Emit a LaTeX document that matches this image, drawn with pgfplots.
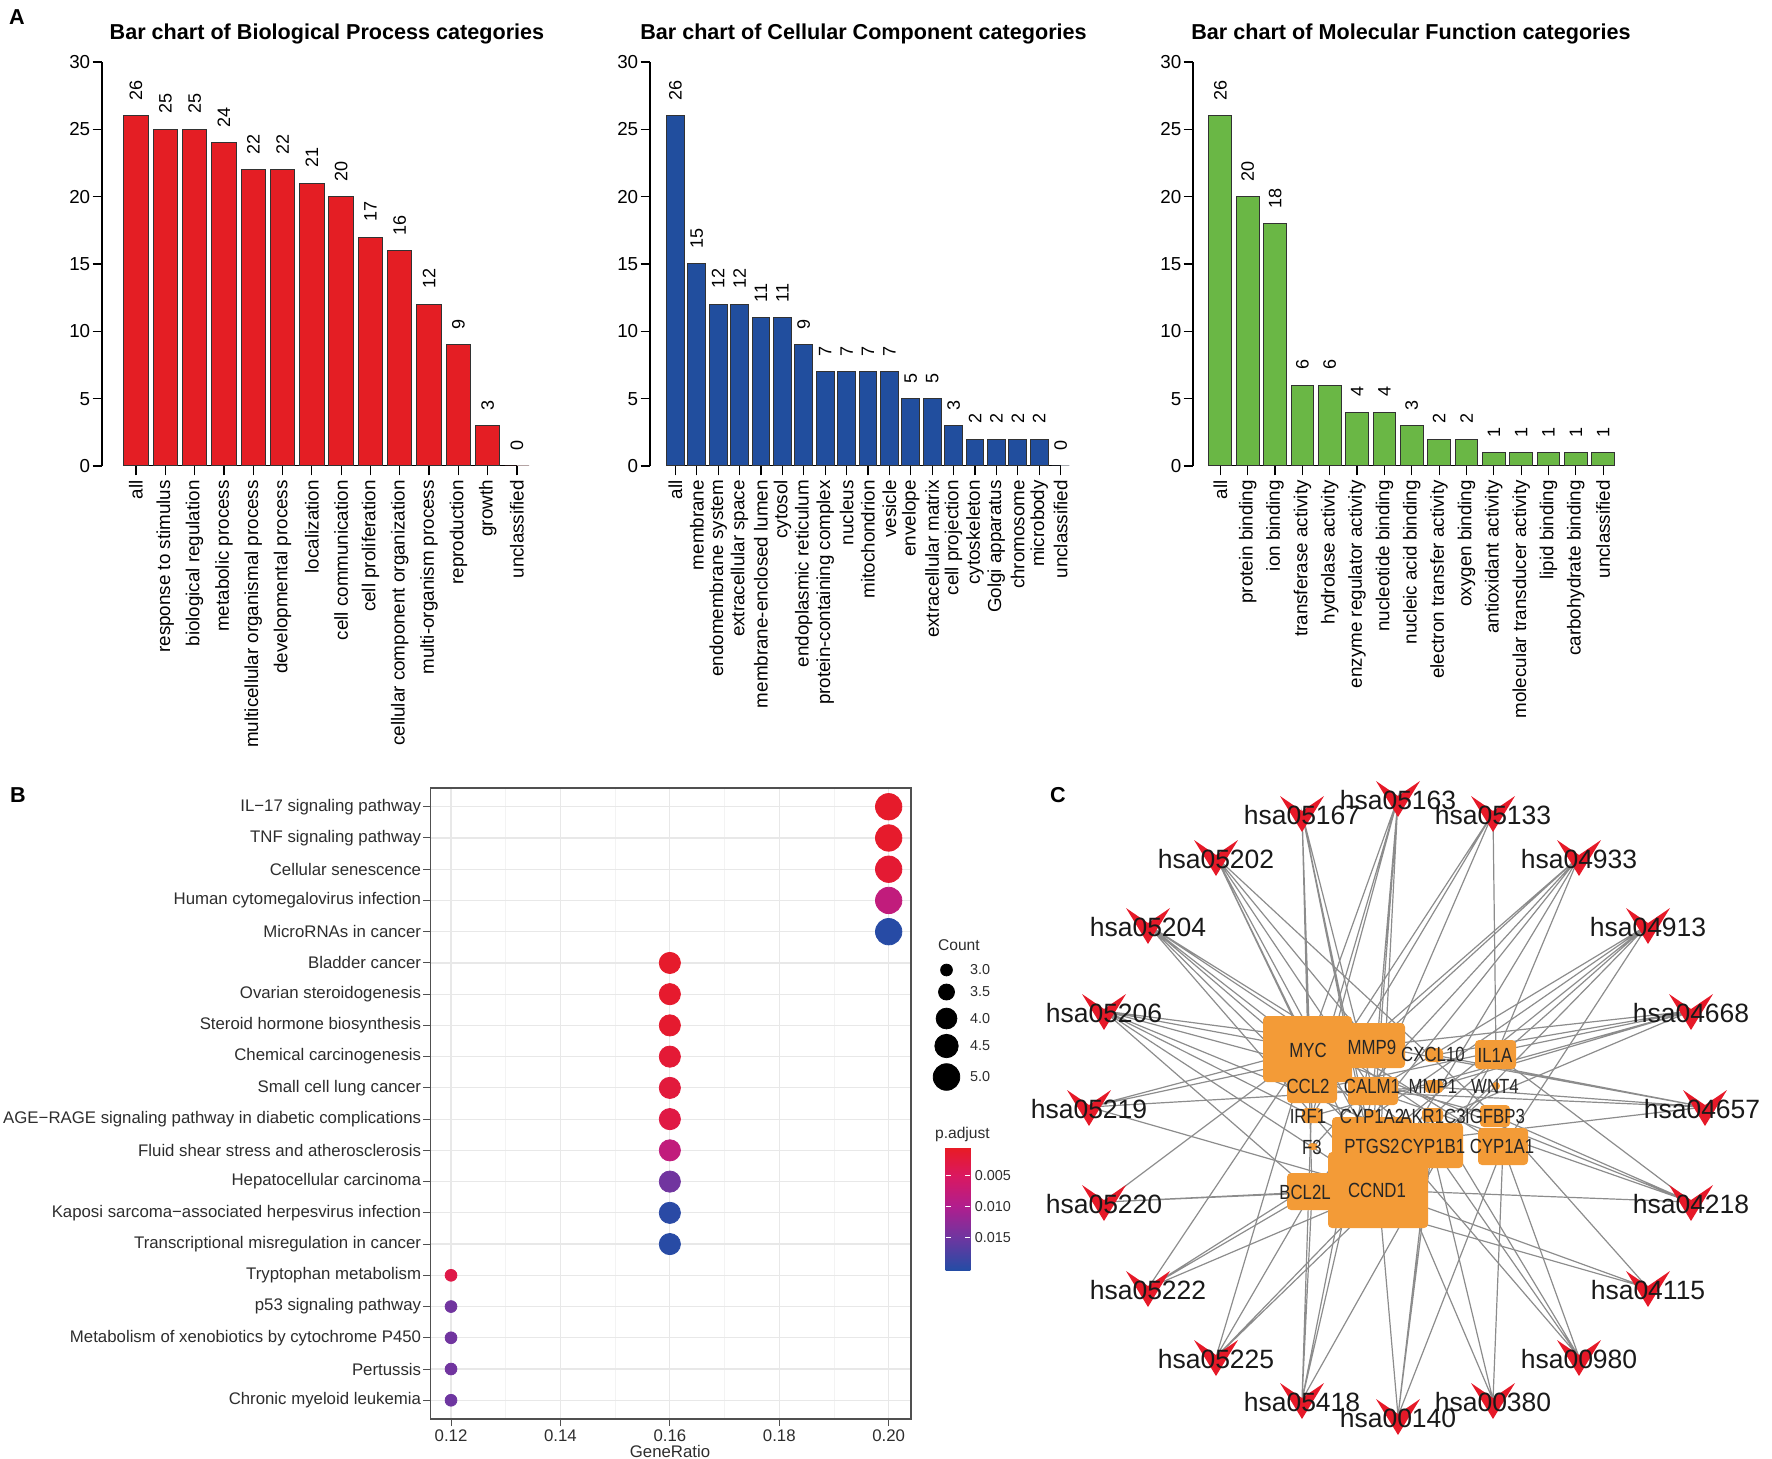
\documentclass[border=0pt]{standalone}
\usepackage{pgfplots}
\pgfplotsset{compat=1.18}
\usepackage{fontspec}
\setmainfont{Liberation Sans}
\newfontfamily\narrowfont{Liberation Sans}[FakeStretch=0.82]

\newcommand{\fs}[1]{\fontsize{#1}{#1}\selectfont}

\definecolor{bpred}{RGB}{228,30,36}
\definecolor{ccblue}{RGB}{33,78,158}
\definecolor{mfgreen}{RGB}{106,183,69}
\definecolor{barline}{RGB}{50,50,50}
\definecolor{gorange}{RGB}{243,155,55}
\definecolor{vred}{RGB}{230,25,40}
\definecolor{edgegray}{RGB}{140,140,140}
\definecolor{gridmaj}{RGB}{232,232,232}
\definecolor{gridmin}{RGB}{243,243,243}
\definecolor{border}{RGB}{80,80,80}
\definecolor{labgray}{RGB}{45,45,45}

\pgfplotsset{
  /pgf/number format/assume math mode=true,
  colormap={padj}{rgb255(0.4pt)=(232,27,35) rgb255(5pt)=(218,24,96) rgb255(10pt)=(176,30,142) rgb255(15pt)=(110,54,160) rgb255(20.2pt)=(36,76,165)},
  % same map mirrored, for the colour bar (small p.adjust at the top)
  colormap={padjrev}{rgb255(0.4pt)=(36,76,165) rgb255(5.6pt)=(110,54,160) rgb255(10.6pt)=(176,30,142) rgb255(15.6pt)=(218,24,96) rgb255(20.2pt)=(232,27,35)},
  colormap name=padj,
  gobar/.style={
    scale only axis, height=202pt,
    ymin=0, ymax=30,
    axis y line=left, axis x line=bottom,
    axis line style={-, line width=0.6pt},
    x axis line style={draw=none},
    ytick={0,5,10,15,20,25,30},
    yticklabels={0,5,10,15,20,25,30},
    tick align=outside,
    major tick length=4.7pt,
    tick style={black, line width=0.6pt},
    yticklabel style={font=\fs{9.4}, inner xsep=1pt},
    xticklabel style={font=\fs{9.4}, rotate=90, anchor=east, inner xsep=2.2pt},
  },
  gobars/.style={ybar, bar width=0.833, fill=#1, draw=barline, line width=0.5pt,
    nodes near coords,
    every node near coord/.append style={rotate=90, anchor=west, font=\fs{9},
      inner xsep=7.5pt, inner ysep=0pt, text=black}},
  edge/.style={edgegray, line width=0.6pt},
  gbox/.style={fill=gorange, draw=none, rounded corners=2pt},
  vee/.style={fill=vred, draw=none},
}

\begin{document}
\begin{tikzpicture}
\useasboundingbox (0,0) rectangle (886pt,-729.5pt);

%% ---------- A: Biological Process ----------
\begin{axis}[gobar, at={(51pt,-233pt)}, anchor=south west, width=216.3pt,
  xmin=-0.16, xmax=14.6, xtick={1,...,14},
  xticklabels={all,response to stimulus,biological regulation,metabolic process,
    multicellular organismal process,developmental process,localization,
    cell communication,cell proliferation,cellular component organization,
    multi-organism process,reproduction,growth,unclassified}]
\addplot[black, line width=0.6pt] coordinates {(1,0) (14,0)};
\addplot[gobars=bpred] coordinates {(1,26) (2,25) (3,25) (4,24) (5,22) (6,22) (7,21)
  (8,20) (9,17) (10,16) (11,12) (12,9) (13,3) (14,0)};
\end{axis}

%% ---------- A: Cellular Component ----------
\begin{axis}[gobar, at={(325pt,-233pt)}, anchor=south west, width=211.7pt,
  xmin=-0.187, xmax=19.6, xtick={1,...,19},
  xticklabels={all,membrane,endomembrane system,extracellular space,
    membrane-enclosed lumen,cytosol,endoplasmic reticulum,protein-containing complex,
    nucleus,mitochondrion,vesicle,envelope,extracellular matrix,cell projection,
    cytoskeleton,Golgi apparatus,chromosome,microbody,unclassified}]
\addplot[black, line width=0.6pt] coordinates {(1,0) (19,0)};
\addplot[gobars=ccblue] coordinates {(1,26) (2,15) (3,12) (4,12) (5,11) (6,11) (7,9)
  (8,7) (9,7) (10,7) (11,7) (12,5) (13,5) (14,3) (15,2) (16,2) (17,2) (18,2) (19,0)};
\end{axis}

%% ---------- A: Molecular Function ----------
\begin{axis}[gobar, at={(596.5pt,-233pt)}, anchor=south west, width=213.3pt,
  xmin=0, xmax=15.6, xtick={1,...,15},
  xticklabels={all,protein binding,ion binding,transferase activity,hydrolase activity,
    enzyme regulator activity,nucleotide binding,nucleic acid binding,
    electron transfer activity,oxygen binding,antioxidant activity,
    molecular transducer activity,lipid binding,carbohydrate binding,unclassified}]
\addplot[black, line width=0.6pt] coordinates {(1,0) (15,0)};
\addplot[gobars=mfgreen] coordinates {(1,26) (2,20) (3,18) (4,6) (5,6) (6,4) (7,4)
  (8,3) (9,2) (10,2) (11,1) (12,1) (13,1) (14,1) (15,1)};
\end{axis}

%% ---------- B: KEGG dot plot ----------
\begin{axis}[
  at={(215.25pt,-709.5pt)}, anchor=south west,
  scale only axis, width=240.25pt, height=315.5pt,
  xmin=0.11625, xmax=0.20408, ymin=0.4, ymax=20.6,
  xtick={0.12,0.14,0.16,0.18,0.20},
  xticklabels={0.12,0.14,0.16,0.18,0.20},
  minor xtick={0.13,0.15,0.17,0.19},
  ytick={1,...,20},
  yticklabels={Chronic myeloid leukemia,Pertussis,
    Metabolism of xenobiotics by cytochrome P450,p53 signaling pathway,
    Tryptophan metabolism,Transcriptional misregulation in cancer,
    Kaposi sarcoma−associated herpesvirus infection,Hepatocellular carcinoma,
    Fluid shear stress and atherosclerosis,
    AGE−RAGE signaling pathway in diabetic complications,Small cell lung cancer,
    Chemical carcinogenesis,Steroid hormone biosynthesis,Ovarian steroidogenesis,
    Bladder cancer,MicroRNAs in cancer,Human cytomegalovirus infection,
    Cellular senescence,TNF signaling pathway,IL−17 signaling pathway},
  grid=both,
  major grid style={gridmaj, line width=0.6pt},
  minor grid style={gridmin, line width=0.45pt},
  axis line style={border, line width=0.8pt},
  tick pos=left, tick align=outside,
  major tick length=3.5pt, minor tick length=0pt,
  tick style={border, line width=0.5pt},
  xticklabel style={font=\fs{8.4}, text=labgray, inner ysep=1.5pt},
  yticklabel style={font=\fs{8.4}, text=labgray, inner xsep=1pt},
  colormap name=padj,
  point meta min=0.0004, point meta max=0.0202,
  colorbar,
  colorbar style={
    colormap name=padjrev,
    at={(parent axis.south east)}, anchor=south west,
    xshift=8.75pt, yshift=74.5pt,
    scale only axis, width=12.4pt, height=61.5pt,
    axis line style={draw=none},
    grid=none,
    scaled y ticks=false,
    ytick={0.0156,0.0106,0.0056},
    yticklabels={0.005,0.010,0.015},
    ytick pos=both,
    yticklabel pos=right,
    tick align=inside,
    major tick length=2.6pt,
    ytick style={white, line width=0.7pt},
    yticklabel style={font=\fs{7.2}, text=labgray, inner xsep=2pt},
  },
]
\addplot[scatter, only marks, mark=*, mark size=6.6pt, point meta=explicit,
  scatter/use mapped color={draw=mapped color, fill=mapped color}]
  table[meta=p, row sep=\\] {x y p \\
  0.20 20 0.0010 \\ 0.20 19 0.0011 \\ 0.20 18 0.0016 \\ 0.20 17 0.0080 \\ 0.20 16 0.0200 \\};
\addplot[scatter, only marks, mark=*, mark size=5.3pt, point meta=explicit,
  scatter/use mapped color={draw=mapped color, fill=mapped color}]
  table[meta=p, row sep=\\] {x y p \\
  0.16 15 0.0011 \\ 0.16 14 0.0012 \\ 0.16 13 0.0013 \\ 0.16 12 0.0018 \\
  0.16 11 0.0023 \\ 0.16 10 0.0029 \\ 0.16 9 0.0080 \\ 0.16 8 0.0148 \\
  0.16 7 0.0198 \\ 0.16 6 0.0199 \\};
\addplot[scatter, only marks, mark=*, mark size=2.95pt, point meta=explicit,
  scatter/use mapped color={draw=mapped color, fill=mapped color}]
  table[meta=p, row sep=\\] {x y p \\
  0.12 5 0.0032 \\ 0.12 4 0.0148 \\ 0.12 3 0.0148 \\ 0.12 2 0.0148 \\ 0.12 1 0.0150 \\};
\end{axis}

%% ---------- canvas in image pixels: titles, legend, C network ----------
\begin{axis}[at={(0pt,0pt)}, anchor=north west, scale only axis,
  width=886pt, height=729.5pt, xmin=0, xmax=1772, ymin=0, ymax=1459,
  y dir=reverse, hide axis, clip=false]

% edges (pathway -> genes)
\addplot[edge] coordinates {(1398,798) (1378,1190) (1398,798) (1312,1090) (1398,798) (1372,1146) (1398,798) (1373,1091) (1398,798) (1308,1049) (1398,798) (1312,1116)};
\addplot[edge] coordinates {(1302,813) (1308,1049) (1302,813) (1378,1190) (1302,813) (1372,1146) (1302,813) (1373,1091) (1302,813) (1312,1116) (1302,813) (1312,1192)};
\addplot[edge] coordinates {(1493,813) (1496,1055) (1493,813) (1373,1091) (1493,813) (1312,1116) (1493,813) (1312,1090)};
\addplot[edge] coordinates {(1216,857) (1308,1049) (1216,857) (1372,1046) (1216,857) (1495,1116) (1216,857) (1378,1190) (1216,857) (1373,1091) (1216,857) (1372,1146)};
\addplot[edge] coordinates {(1579,857) (1312,1090) (1579,857) (1378,1190) (1579,857) (1313,1147) (1579,857) (1496,1055) (1579,857) (1312,1192) (1579,857) (1372,1046)};
\addplot[edge] coordinates {(1148,925) (1503,1147) (1148,925) (1372,1116) (1148,925) (1432,1146) (1148,925) (1372,1146) (1148,925) (1433,1115) (1148,925) (1378,1190)};
\addplot[edge] coordinates {(1648,925) (1503,1147) (1648,925) (1432,1146) (1648,925) (1433,1115) (1648,925) (1372,1146) (1648,925) (1372,1116) (1648,925) (1373,1091)};
\addplot[edge] coordinates {(1104,1011) (1378,1190) (1104,1011) (1308,1049) (1104,1011) (1372,1046) (1104,1011) (1372,1146) (1104,1011) (1312,1192) (1104,1011) (1432,1146) (1104,1011) (1495,1116)};
\addplot[edge] coordinates {(1691,1011) (1312,1090) (1691,1011) (1372,1046) (1691,1011) (1372,1146) (1691,1011) (1434,1055) (1691,1011) (1434,1087) (1691,1011) (1312,1116)};
\addplot[edge] coordinates {(1089,1107) (1378,1190) (1089,1107) (1308,1049) (1089,1107) (1372,1046) (1089,1107) (1434,1087)};
\addplot[edge] coordinates {(1705,1107) (1312,1090) (1705,1107) (1372,1046) (1705,1107) (1372,1146) (1705,1107) (1434,1055) (1705,1107) (1434,1087)};
\addplot[edge] coordinates {(1104,1202) (1378,1190) (1104,1202) (1308,1049) (1104,1202) (1312,1192)};
\addplot[edge] coordinates {(1691,1202) (1378,1190) (1691,1202) (1308,1049) (1691,1202) (1373,1091) (1691,1202) (1496,1055) (1691,1202) (1495,1116)};
\addplot[edge] coordinates {(1148,1288) (1378,1190) (1148,1288) (1308,1049) (1148,1288) (1372,1146) (1148,1288) (1312,1192)};
\addplot[edge] coordinates {(1648,1288) (1378,1190) (1648,1288) (1495,1116) (1648,1288) (1312,1192)};
\addplot[edge] coordinates {(1216,1357) (1378,1190) (1216,1357) (1308,1049) (1216,1357) (1312,1192) (1216,1357) (1496,1086)};
\addplot[edge] coordinates {(1579,1357) (1503,1147) (1579,1357) (1372,1116) (1579,1357) (1432,1146) (1579,1357) (1433,1115)};
\addplot[edge] coordinates {(1302,1400) (1373,1091) (1302,1400) (1372,1046) (1302,1400) (1496,1055) (1302,1400) (1312,1090) (1302,1400) (1312,1192)};
\addplot[edge] coordinates {(1493,1400) (1503,1147) (1493,1400) (1372,1116) (1493,1400) (1432,1146)};
\addplot[edge] coordinates {(1398,1416) (1503,1147) (1398,1416) (1372,1116) (1398,1416) (1432,1146) (1398,1416) (1433,1115)};

% gene nodes
\addplot[gbox] coordinates {(1263,1016) (1352,1016) (1352,1082) (1263,1082)} -- cycle; % MYC
\addplot[gbox] coordinates {(1338,1023) (1405,1023) (1405,1068) (1338,1068)} -- cycle; % MMP9
\addplot[gbox] coordinates {(1425,1048) (1443,1048) (1443,1062) (1425,1062)} -- cycle; % CXCL10
\addplot[gbox] coordinates {(1475,1040) (1516,1040) (1516,1069) (1475,1069)} -- cycle; % IL1A
\addplot[gbox] coordinates {(1287,1077) (1337,1077) (1337,1103) (1287,1103)} -- cycle; % CCL2
\addplot[gbox] coordinates {(1348,1077) (1398,1077) (1398,1105) (1348,1105)} -- cycle; % CALM1
\addplot[gbox] coordinates {(1425,1080) (1443,1080) (1443,1093) (1425,1093)} -- cycle; % MMP1
\addplot[gbox] coordinates {(1492,1082) (1500,1082) (1500,1090) (1492,1090)} -- cycle; % WNT4
\addplot[gbox] coordinates {(1302,1108) (1322,1108) (1322,1123) (1302,1123)} -- cycle; % IRF1
\addplot[gbox] coordinates {(1365,1110) (1379,1110) (1379,1122) (1365,1122)} -- cycle; % CYP1A2
\addplot[gbox] coordinates {(1422,1108) (1443,1108) (1443,1122) (1422,1122)} -- cycle; % AKR1C3
\addplot[gbox] coordinates {(1480,1105) (1510,1105) (1510,1127) (1480,1127)} -- cycle; % IGFBP3
\addplot[gbox] coordinates {(1308,1143) (1318,1143) (1318,1150) (1308,1150)} -- cycle; % F3
\addplot[gbox] coordinates {(1332,1117) (1412,1117) (1412,1175) (1332,1175)} -- cycle; % PTGS2
\addplot[gbox] coordinates {(1400,1123) (1463,1123) (1463,1168) (1400,1168)} -- cycle; % CYP1B1
\addplot[gbox] coordinates {(1478,1128) (1528,1128) (1528,1165) (1478,1165)} -- cycle; % CYP1A1
\addplot[gbox] coordinates {(1287,1173) (1337,1173) (1337,1210) (1287,1210)} -- cycle; % BCL2L
\addplot[gbox] coordinates {(1328,1152) (1428,1152) (1428,1228) (1328,1228)} -- cycle; % CCND1

% pathway nodes (red chevrons)
\addplot[vee] coordinates {(1376,781) (1398,796) (1420,781) (1398,817)} -- cycle;
\addplot[vee] coordinates {(1471,796) (1493,811) (1515,796) (1493,832)} -- cycle;
\addplot[vee] coordinates {(1557,840) (1579,855) (1601,840) (1579,876)} -- cycle;
\addplot[vee] coordinates {(1626,908) (1648,923) (1670,908) (1648,944)} -- cycle;
\addplot[vee] coordinates {(1669,994) (1691,1009) (1713,994) (1691,1030)} -- cycle;
\addplot[vee] coordinates {(1683,1090) (1705,1105) (1727,1090) (1705,1126)} -- cycle;
\addplot[vee] coordinates {(1669,1185) (1691,1200) (1713,1185) (1691,1221)} -- cycle;
\addplot[vee] coordinates {(1626,1271) (1648,1286) (1670,1271) (1648,1307)} -- cycle;
\addplot[vee] coordinates {(1557,1340) (1579,1355) (1601,1340) (1579,1376)} -- cycle;
\addplot[vee] coordinates {(1471,1383) (1493,1398) (1515,1383) (1493,1419)} -- cycle;
\addplot[vee] coordinates {(1376,1399) (1398,1414) (1420,1399) (1398,1435)} -- cycle;
\addplot[vee] coordinates {(1280,1383) (1302,1398) (1324,1383) (1302,1419)} -- cycle;
\addplot[vee] coordinates {(1194,1340) (1216,1355) (1238,1340) (1216,1376)} -- cycle;
\addplot[vee] coordinates {(1126,1271) (1148,1286) (1170,1271) (1148,1307)} -- cycle;
\addplot[vee] coordinates {(1082,1185) (1104,1200) (1126,1185) (1104,1221)} -- cycle;
\addplot[vee] coordinates {(1067,1090) (1089,1105) (1111,1090) (1089,1126)} -- cycle;
\addplot[vee] coordinates {(1082,994) (1104,1009) (1126,994) (1104,1030)} -- cycle;
\addplot[vee] coordinates {(1126,908) (1148,923) (1170,908) (1148,944)} -- cycle;
\addplot[vee] coordinates {(1194,840) (1216,855) (1238,840) (1216,876)} -- cycle;
\addplot[vee] coordinates {(1280,796) (1302,811) (1324,796) (1302,832)} -- cycle;

% Count legend keys
\addplot[only marks, mark=*, black, mark size=2.95pt] coordinates {(946.5,970)};
\addplot[only marks, mark=*, black, mark size=4.0pt] coordinates {(946.5,992)};
\addplot[only marks, mark=*, black, mark size=5.2pt] coordinates {(946.5,1018.5)};
\addplot[only marks, mark=*, black, mark size=5.85pt] coordinates {(946.5,1046)};
\addplot[only marks, mark=*, black, mark size=6.65pt] coordinates {(946.5,1077)};

% panel letters and titles
\node[anchor=base west, font=\bfseries\fs{10.8}] at (axis cs:2,24) {A};
\node[anchor=base west, font=\bfseries\fs{10.8}] at (axis cs:3,802) {B};
\node[anchor=base west, font=\bfseries\fs{10.8}] at (axis cs:1043,802) {C};
\node[anchor=base, font=\bfseries\fs{10.8}] at (axis cs:327,39) {Bar chart of Biological Process categories};
\node[anchor=base, font=\bfseries\fs{10.8}] at (axis cs:863.5,39) {Bar chart of Cellular Component categories};
\node[anchor=base, font=\bfseries\fs{10.8}] at (axis cs:1411,39) {Bar chart of Molecular Function categories};

% B labels and legends
\node[anchor=base, font=\fs{8.4}, text=labgray] at (axis cs:670,1457) {GeneRatio};
\node[anchor=base west, font=\fs{7.8}, text=labgray] at (axis cs:931,950) {Count};
\node[anchor=base west, font=\fs{7.8}, text=labgray] at (axis cs:928,1138) {p.adjust};
\node[anchor=west, font=\fs{7.2}, text=labgray] at (axis cs:963,970) {3.0};
\node[anchor=west, font=\fs{7.2}, text=labgray] at (axis cs:963,992) {3.5};
\node[anchor=west, font=\fs{7.2}, text=labgray] at (axis cs:963,1018.5) {4.0};
\node[anchor=west, font=\fs{7.2}, text=labgray] at (axis cs:963,1046) {4.5};
\node[anchor=west, font=\fs{7.2}, text=labgray] at (axis cs:963,1077) {5.0};

% pathway labels
\begin{scope}[every node/.style={font=\fs{13.25}, text={black!90}, inner sep=0pt}]
\node at (axis cs:1398,800) {hsa05163};
\node at (axis cs:1493,815) {hsa05133};
\node at (axis cs:1579,859) {hsa04933};
\node at (axis cs:1648,927) {hsa04913};
\node at (axis cs:1691,1013) {hsa04668};
\node at (axis cs:1702,1109) {hsa04657};
\node at (axis cs:1691,1204) {hsa04218};
\node at (axis cs:1648,1290) {hsa04115};
\node at (axis cs:1579,1359) {hsa00980};
\node at (axis cs:1493,1402) {hsa00380};
\node at (axis cs:1398,1418) {hsa00140};
\node at (axis cs:1302,1402) {hsa05418};
\node at (axis cs:1216,1359) {hsa05225};
\node at (axis cs:1148,1290) {hsa05222};
\node at (axis cs:1104,1204) {hsa05220};
\node at (axis cs:1089,1109) {hsa05219};
\node at (axis cs:1104,1013) {hsa05206};
\node at (axis cs:1148,927) {hsa05204};
\node at (axis cs:1216,859) {hsa05202};
\node at (axis cs:1302,815) {hsa05167};
\end{scope}

% gene labels
\begin{scope}[every node/.style={font=\narrowfont\fs{10.25}, text={black!85}, inner sep=0pt}]
\node at (axis cs:1308,1050) {MYC};
\node at (axis cs:1372,1047) {MMP9};
\node at (axis cs:1433,1054) {CXCL10};
\node at (axis cs:1495,1055) {IL1A};
\node at (axis cs:1308,1086) {CCL2};
\node at (axis cs:1372,1086) {CALM1};
\node at (axis cs:1433,1086) {MMP1};
\node at (axis cs:1495,1086) {WNT4};
\node at (axis cs:1308,1116) {IRF1};
\node at (axis cs:1372,1116) {CYP1A2};
\node at (axis cs:1433,1116) {AKR1C3};
\node at (axis cs:1495,1116) {IGFBP3};
\node at (axis cs:1312,1147) {F3};
\node at (axis cs:1372,1146) {PTGS2};
\node at (axis cs:1433,1146) {CYP1B1};
\node at (axis cs:1502,1146) {CYP1A1};
\node at (axis cs:1305,1192) {BCL2L};
\node at (axis cs:1377,1190) {CCND1};
\end{scope}
\end{axis}
\end{tikzpicture}
\end{document}
